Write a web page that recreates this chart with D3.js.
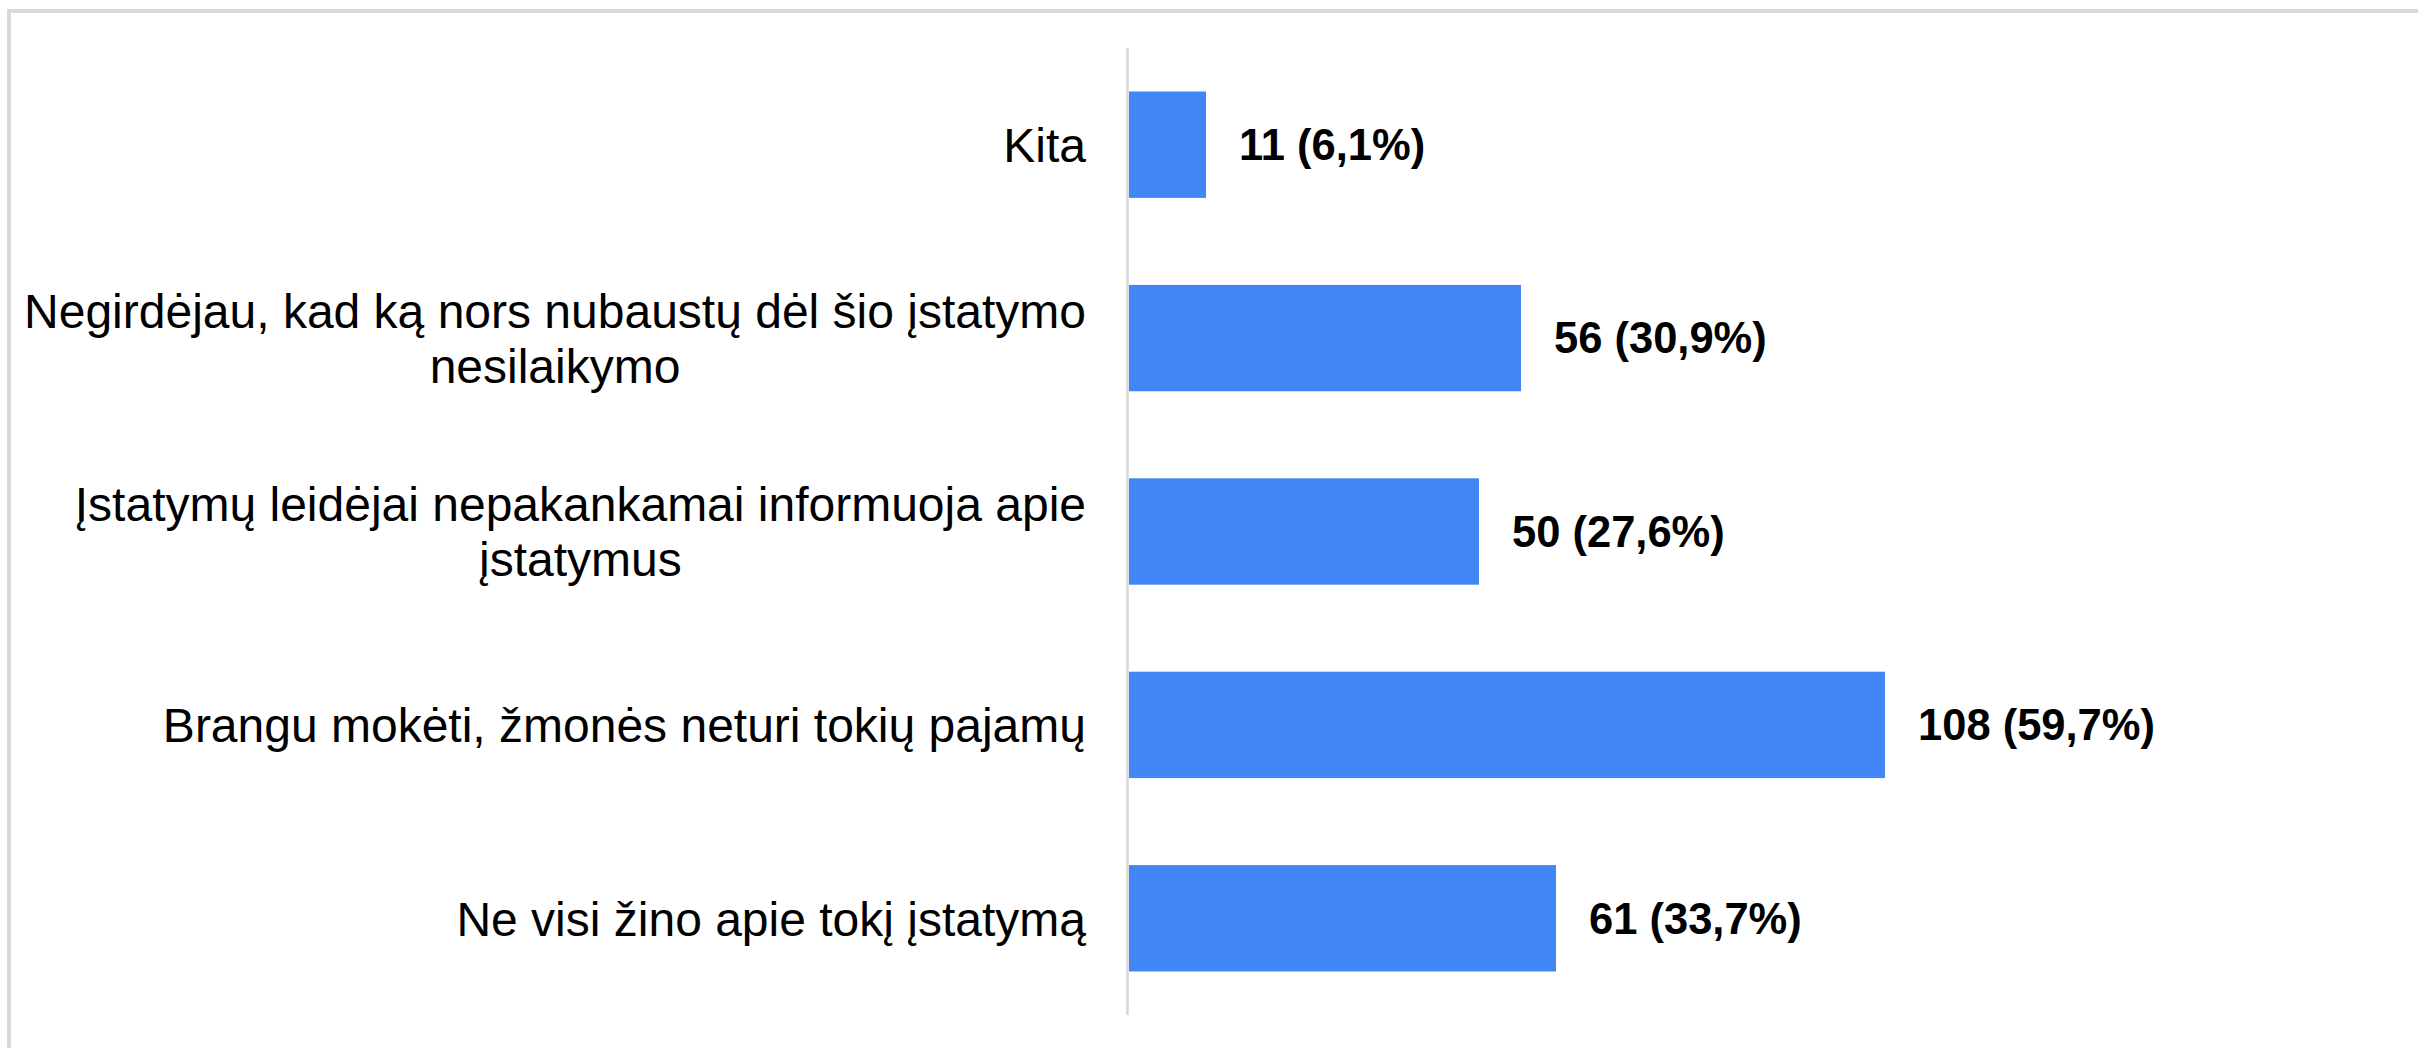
<html>
<head>
<style>
  body { margin: 0; background: #fff; }
  svg { display: block; }
</style>
</head>

<body>
    <div>
        <svg id="chart"></svg>
    </div>

    <script src="https://d3js.org/d3.v7.min.js" charset="utf-8"></script>
    <script type="text/javascript">
        // answers, top to bottom as in the chart
        var categories = [
            'Kita',
            'Negirdėjau, kad ką nors nubaustų dėl šio įstatymo nesilaikymo',
            'Įstatymų leidėjai nepakankamai informuoja apie įstatymus',
            'Brangu mokėti, žmonės neturi tokių pajamų',
            'Ne visi žino apie tokį įstatymą'
        ]
        var counts = [11, 56, 50, 108, 61]
        var percents = [6.1, 30.9, 27.6, 59.7, 33.7]

        var width = 2418
        var height = 1048

        var svg = d3.select('#chart')
                    .attr('width', width)
                    .attr('height', height)

        // outer frame (only top and left edges are visible)
        svg.append('line')
            .attr('x1', 7).attr('x2', width)
            .attr('y1', 11).attr('y2', 11)
            .attr('stroke', '#d9d9d9').attr('stroke-width', 4)
        svg.append('line')
            .attr('x1', 9).attr('x2', 9)
            .attr('y1', 9).attr('y2', height)
            .attr('stroke', '#d9d9d9').attr('stroke-width', 4)

        var x = d3.scaleLinear().domain([0, 120]).range([1129, 1969])
        var y = d3.scaleBand()
                    .domain(categories)
                    .range([48, 1015])
                    .paddingInner(0.45)
                    .paddingOuter(0.225)

        var data = categories.map(function(c, i) {
            return { cat: c, n: counts[i], p: percents[i] }
        })

        // bars
        svg.selectAll('rect.bar')
            .data(data)
            .enter()
            .append('rect')
            .attr('class', 'bar')
            .attr('x', x(0))
            .attr('y', function(d) { return y(d.cat) })
            .attr('width', function(d) { return x(d.n) - x(0) })
            .attr('height', y.bandwidth())
            .style('fill', '#4285f4')

        // vertical axis line
        svg.append('line')
            .attr('x1', x(0) - 1.5).attr('x2', x(0) - 1.5)
            .attr('y1', y.range()[0]).attr('y2', y.range()[1])
            .attr('stroke', '#d6d6d6').attr('stroke-width', 2.5)

        // value labels
        svg.selectAll('text.val')
            .data(data)
            .enter()
            .append('text')
            .attr('class', 'val')
            .attr('x', function(d) { return x(d.n) + 33 })
            .attr('y', function(d) { return y(d.cat) + y.bandwidth() / 2 })
            .attr('dy', '0.35em')
            .style('font-family', '"Liberation Sans", Arial, sans-serif')
            .style('font-size', '43.5px')
            .style('font-weight', 'bold')
            .style('fill', '#000')
            .text(function(d) { return d.n + ' (' + d.p.toFixed(1).replace('.', ',') + '%)' })

        // category labels: wrapped, block right-aligned, lines centred within it
        var labelRight = 1086
        var maxWidth = 1080
        var lineHeight = 55
        var fontSize = 48

        data.forEach(function(d) {
            var g = svg.append('g')
            var probe = g.append('text')
                .style('font-family', '"Liberation Sans", Arial, sans-serif')
                .style('font-size', fontSize + 'px')
            var words = d.cat.split(' ')
            var lines = []
            var cur = []
            words.forEach(function(w) {
                var trial = cur.concat([w]).join(' ')
                probe.text(trial)
                if (cur.length && probe.node().getComputedTextLength() > maxWidth) {
                    lines.push(cur.join(' '))
                    cur = [w]
                } else {
                    cur.push(w)
                }
            })
            lines.push(cur.join(' '))

            var widest = 0
            lines.forEach(function(l) {
                probe.text(l)
                widest = Math.max(widest, probe.node().getComputedTextLength())
            })
            probe.remove()

            var cy = y(d.cat) + y.bandwidth() / 2
            var cx = labelRight - widest / 2
            var first = cy + 0.36 * fontSize - (lines.length - 1) * lineHeight / 2

            g.selectAll('text')
                .data(lines)
                .enter()
                .append('text')
                .attr('x', cx)
                .attr('y', function(l, i) { return first + i * lineHeight })
                .attr('text-anchor', 'middle')
                .style('font-family', '"Liberation Sans", Arial, sans-serif')
                .style('font-size', fontSize + 'px')
                .style('fill', '#000')
                .text(function(l) { return l })
        })
    </script>
</body>
</html>
